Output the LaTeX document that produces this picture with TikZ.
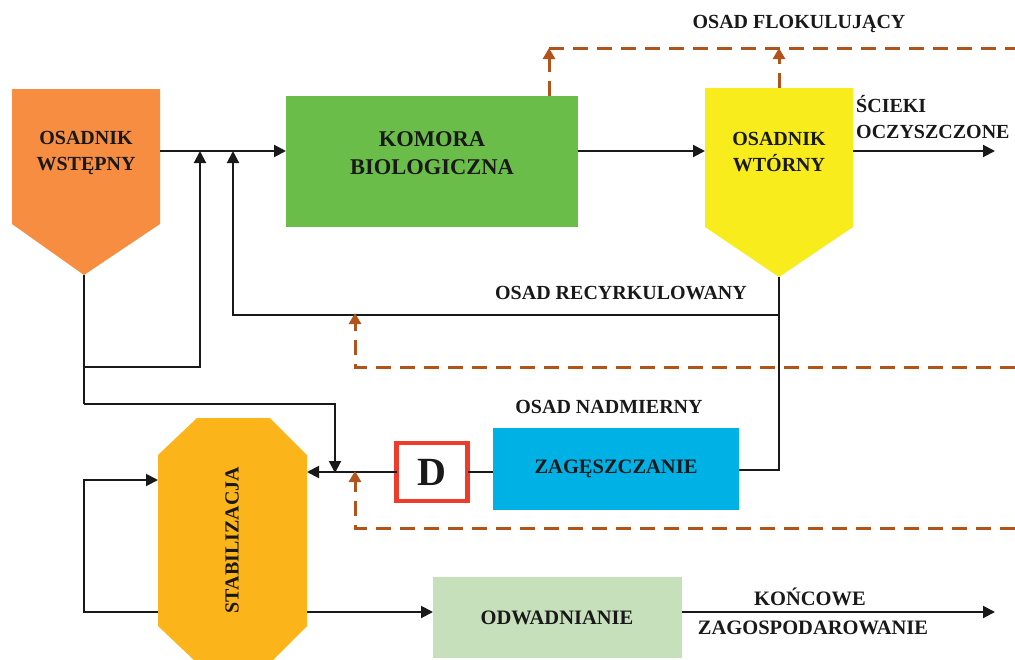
\documentclass[tikz,border=0pt]{standalone}
\usepackage{fontspec}
\setmainfont{Liberation Serif}
\usetikzlibrary{arrows.meta}
\definecolor{orangeC}{RGB}{246,141,64}
\definecolor{greenC}{RGB}{106,189,72}
\definecolor{yellowC}{RGB}{248,236,29}
\definecolor{blueC}{RGB}{0,177,230}
\definecolor{stabC}{RGB}{251,180,26}
\definecolor{lgreenC}{RGB}{199,224,188}
\definecolor{redC}{RGB}{238,59,43}
\definecolor{brownC}{RGB}{177,84,28}
\definecolor{txtC}{RGB}{25,25,25}
\begin{document}
\begin{tikzpicture}[x=1pt,y=-1pt,
  lbl/.style={font=\bfseries\fontsize{20}{26}\selectfont, align=center, inner sep=0pt, text=txtC},
  blbl/.style={font=\bfseries\fontsize{22.5}{28}\selectfont, align=center, inner sep=0pt, text=txtC},
  boxnode/.style={inner sep=0pt, outer sep=0pt},
  flow/.style={line width=2pt, txtC, -{Triangle[length=12pt,width=12pt]}},
  ln/.style={line width=2pt, txtC},
  dsh/.style={line width=3pt, brownC, dash pattern=on 15pt off 9pt},
  darr/.style={dsh, -{Triangle[length=11pt,width=12pt]}}
]
\useasboundingbox (0,0) rectangle (1015,659);
\clip (0,0) rectangle (1015,659);

% ---- shapes ----
\fill[orangeC] (12,89) -- (160,89) -- (160,224) -- (84,275) -- (12,224) -- cycle;
\node[boxnode, minimum width=148pt, minimum height=135pt] (wst) at (86,156.5) {};
\coordinate (wstB) at (84,275);

\node[boxnode, fill=greenC, minimum width=292pt, minimum height=131pt] (kom) at (432,161.5) {};

\fill[yellowC] (705,88) -- (853,88) -- (853,227) -- (779,277) -- (705,227) -- cycle;
\node[boxnode, minimum width=148pt, minimum height=139pt] (wt) at (779,157.5) {};
\coordinate (wtB) at (779,277);

\node[boxnode, fill=blueC, minimum width=246pt, minimum height=82pt] (zag) at (616,469) {};

\node[boxnode, draw=redC, fill=white, line width=4.5pt, minimum width=71pt, minimum height=58pt,
      font=\bfseries\fontsize{40}{40}\selectfont, text=txtC] (D) at (432,472) {D};

\fill[stabC] (197,418) -- (270,418) -- (307,455) -- (307,626) -- (270,663) -- (197,663) -- (158,626) -- (158,455) -- cycle;
\node[boxnode, minimum width=149pt, minimum height=245pt] (stab) at (232.5,540.5) {};

\node[boxnode, fill=lgreenC, minimum width=249pt, minimum height=81pt] (odw) at (557.5,617) {};

% ---- labels ----
\node[lbl] (t1) at (86,153) {OSADNIK\\WSTĘPNY};
\node[blbl] (t2) at (432,153) {KOMORA\\BIOLOGICZNA};
\node[lbl] (t3) at (779,152) {OSADNIK\\WTÓRNY};
\node[lbl, align=left, anchor=west] (t4) at (856,117) {ŚCIEKI\\OCZYSZCZONE};
\node[lbl] (t5) at (799,24) {OSAD FLOKULUJĄCY};
\node[lbl] (t6) at (621,293) {OSAD RECYRKULOWANY};
\node[lbl] (t7) at (609,407) {OSAD NADMIERNY};
\node[lbl, font=\bfseries\fontsize{20.5}{26}\selectfont] (t8) at (616,469) {ZAGĘSZCZANIE};
\node[lbl, rotate=90] (t9) at (232,540) {STABILIZACJA};
\node[lbl, font=\bfseries\fontsize{20.5}{26}\selectfont, anchor=base] (t10) at (557,624) {ODWADNIANIE};
\node[lbl, font=\bfseries\fontsize{20.5}{26}\selectfont, anchor=base] (t11) at (810,605) {KOŃCOWE};
\node[lbl, font=\bfseries\fontsize{20.5}{26}\selectfont, anchor=base] (t12) at (813,634) {ZAGOSPODAROWANIE};

% ---- coordinates ----
\coordinate (j1) at (200,151);
\coordinate (j2) at (233,151);
\coordinate (rec) at (355,315);
\coordinate (mix) at (335,472);
\coordinate (outA) at (995,151);
\coordinate (outB) at (995,612);
\coordinate (flokA) at (549,48);
\coordinate (flokB) at (779,48);
\coordinate (mixB) at (355,472);

% ---- solid connectors ----
\draw[flow] (wst.east |- j1) -- (kom.west |- j1);
\draw[flow] (kom.east |- j1) -- (wt.west |- j1);
\draw[flow] (wt.east |- j1) -- (outA);
\draw[ln] (wstB) -- (84,404);
\draw[flow] (84,367) -| (j1);
\draw[flow] (84,404) -| ([yshift=-1pt]mix);
\draw[ln] (wtB) -- (779,470) -- (zag.east |- 0,470);
\draw[flow] (779,315) -| (j2);
\draw[ln] (zag.west |- D) -- (D.east);
\draw[flow] (D.west) -- (stab.east |- D);
\draw[flow] (stab.west |- outB) -- (84,612) -- (84,480) -- (stab.west |- 0,480);
\draw[flow] (stab.east |- outB) -- (odw.west |- outB);
\draw[flow] (odw.east |- outB) -- (outB);

% ---- dashed connectors ----
\draw[dsh] (flokA) -- (1015,48);
\draw[darr] (kom.north -| flokA) -- (flokA);
\draw[darr] (wt.north -| flokB) -- (flokB);
\draw[darr] (1015,367) -- (355,367) -- ([yshift=2pt]rec);
\draw[darr] (1015,528) -- (355,528) -- ([yshift=1pt]mixB);
\end{tikzpicture}
\end{document}
